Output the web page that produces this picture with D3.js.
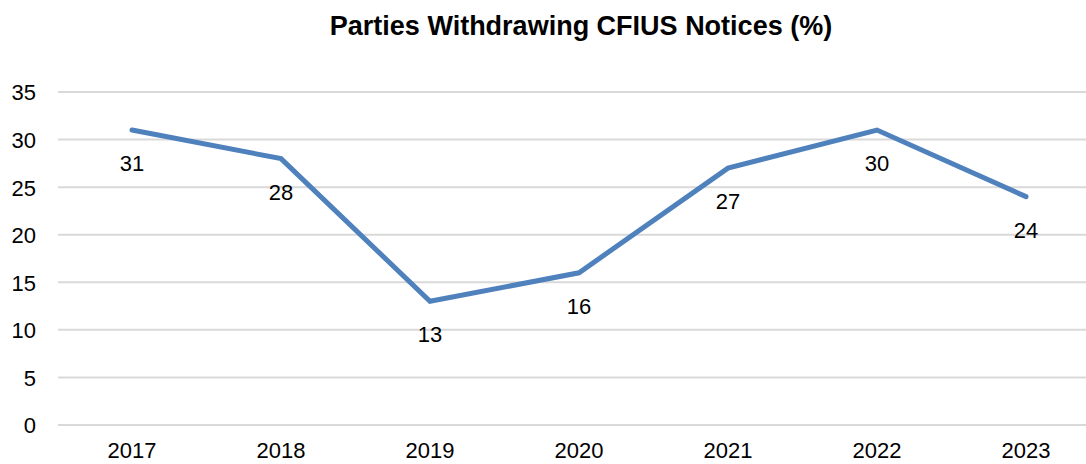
<!DOCTYPE html>
<html>
<head>
<meta charset="utf-8">
<script src="https://cdn.jsdelivr.net/npm/d3@7"></script>
<style>
  html, body { margin: 0; padding: 0; background: #fff; overflow: hidden; }
  svg { display: block; font-family: "Liberation Sans", Arial, sans-serif; }
</style>
</head>
<body>
<svg id="chart" width="1086" height="464"></svg>
<script>
const title = "Parties Withdrawing CFIUS Notices (%)";
const years = ["2017", "2018", "2019", "2020", "2021", "2022", "2023"];
const values = [31, 28, 13, 16, 27, 31, 24];
const labels = ["31", "28", "13", "16", "27", "30", "24"];
const yTicks = [0, 5, 10, 15, 20, 25, 30, 35];

const W = 1086, H = 464;
const svg = d3.select("#chart");

const x = d3.scaleBand().domain(years).range([57.5, 1100.5]).padding(0);
const y = d3.scaleLinear().domain([0, 35]).range([425, 92]);

// gridlines
svg.append("g")
  .selectAll("line")
  .data(yTicks)
  .join("line")
  .attr("x1", 58).attr("x2", W)
  .attr("y1", d => y(d)).attr("y2", d => y(d))
  .attr("stroke", "#d9d9d9").attr("stroke-width", 2);

// y axis
const yAxis = d3.axisLeft(y).tickValues(yTicks).tickSize(0).tickPadding(0);
const gy = svg.append("g").attr("transform", "translate(36,0)").call(yAxis);
gy.select(".domain").remove();
gy.selectAll("text").attr("font-size", 22).attr("fill", "#000")
  .attr("font-family", "Liberation Sans, Arial, sans-serif").attr("dy", "0.36em");

// x axis
const xAxis = d3.axisBottom(x).tickSize(0).tickPadding(0);
const gx = svg.append("g").attr("transform", "translate(0,440)").call(xAxis);
gx.select(".domain").remove();
gx.selectAll("text").attr("font-size", 22).attr("fill", "#000")
  .attr("font-family", "Liberation Sans, Arial, sans-serif").attr("dy", "0.8em");

// line
const pts = years.map((yr, i) => ({ yr, v: values[i], lab: labels[i] }));
const line = d3.line().x(d => x(d.yr) + x.bandwidth() / 2).y(d => y(d.v));
svg.append("path")
  .datum(pts)
  .attr("d", line)
  .attr("fill", "none")
  .attr("stroke", "#4f81bd")
  .attr("stroke-width", 5)
  .attr("stroke-linejoin", "miter")
  .attr("stroke-linecap", "round");

// data labels
svg.append("g")
  .selectAll("text")
  .data(pts)
  .join("text")
  .attr("x", d => x(d.yr) + x.bandwidth() / 2)
  .attr("y", d => y(d.v) + 33)
  .attr("dy", "0.36em")
  .attr("text-anchor", "middle")
  .attr("font-size", 22)
  .attr("fill", "#000")
  .text(d => d.lab);

// title
svg.append("text")
  .attr("x", 581).attr("y", 35)
  .attr("text-anchor", "middle")
  .attr("font-size", 27)
  .attr("font-weight", "bold")
  .attr("fill", "#000")
  .text(title);
</script>
</body>
</html>
